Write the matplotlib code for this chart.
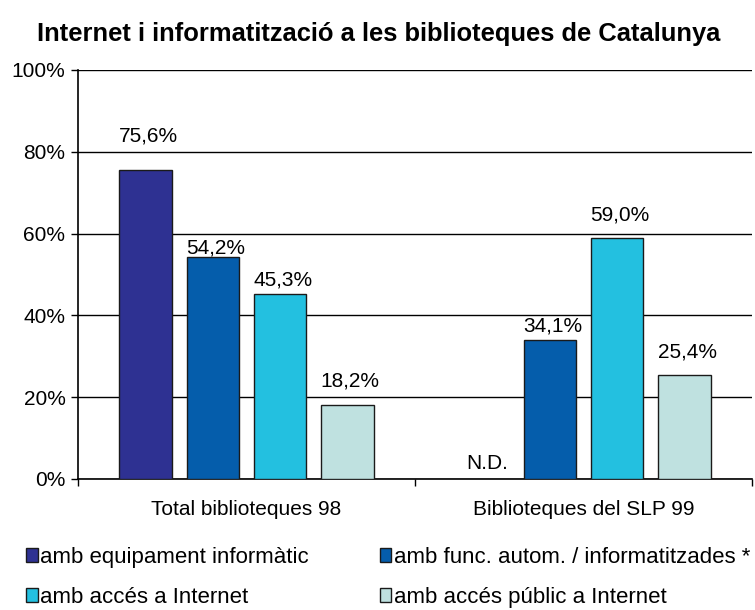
import matplotlib.pyplot as plt
from matplotlib.patches import Patch
from matplotlib.ticker import FixedLocator

plt.rcParams['font.family'] = ['Liberation Sans', 'DejaVu Sans']

# -----------------------------------
# Data
# -----------------------------------
groups = ["Total biblioteques 98", "Biblioteques del SLP 99"]
series = [
    "amb equipament informàtic",
    "amb func. autom. / informatitzades *",
    "amb accés a Internet",
    "amb accés públic a Internet",
]
# None = N.D. (no data)
values = [
    [75.6, None],
    [54.2, 34.1],
    [45.3, 59.0],
    [18.2, 25.4],
]
colors = ["#2E3192", "#055DAB", "#23C0E0", "#BFE1E0"]
y_ticks = [0, 20, 40, 60, 80, 100]

# label gap above each bar (the original labels were placed by hand)
label_gap = [
    [6.9, 2.4],
    [0.9, 1.9],
    [1.9, 4.3],
    [4.3, 4.2],
]

# -----------------------------------
# Plot
# -----------------------------------
fig = plt.figure(figsize=(7.55, 6.1), dpi=100)
ax = fig.add_axes([0.1033, 0.2148, 0.8927, 0.6705])

step = 0.2
width = 0.155
for i, (name, vals) in enumerate(zip(series, values)):
    offset = (i - 1.5) * step
    for g, v in enumerate(vals):
        x = g + offset
        if v is None:
            ax.text(x + 0.015, label_gap[i][g], "N.D.", ha="center",
                    va="baseline", fontsize=15)
            continue
        ax.bar(x, v, width=width, color=colors[i], edgecolor="#1a1a1a",
               linewidth=1, zorder=3)
        label = f"{v:.1f}".replace(".", ",") + "%"
        ax.text(x + 0.008, v + label_gap[i][g], label, ha="center",
                va="baseline", fontsize=15, zorder=4)

ax.set_xlim(-0.5, 1.5)
ax.set_ylim(0, 100)
ax.set_yticks(y_ticks)
ax.set_yticklabels([f"{t}%" for t in y_ticks], fontsize=15)
ax.yaxis.grid(True, color="black", linewidth=1)
ax.set_axisbelow(True)

ax.set_xticks(range(len(groups)))
ax.set_xticklabels(groups, fontsize=15)
ax.tick_params(axis="x", which="major", length=0, pad=15)
ax.xaxis.set_minor_locator(FixedLocator([-0.5, 0.5, 1.5]))
ax.tick_params(axis="x", which="minor", length=5, width=1, direction="out")
ax.tick_params(axis="y", length=5, width=1, direction="out", pad=4)

for side in ["top", "right"]:
    ax.spines[side].set_visible(False)
ax.spines["left"].set_linewidth(1.2)
ax.spines["bottom"].set_linewidth(1.2)

fig.text(0.502, 0.933, "Internet i informatització a les biblioteques de Catalunya",
         fontsize=18.4, fontweight="bold", ha="center", va="baseline")

handles = [Patch(facecolor=c, edgecolor="#1a1a1a", linewidth=1) for c in colors]
order = [0, 2, 1, 3]
fig.legend([handles[k] for k in order], [series[k] for k in order],
           ncol=2, loc="upper left", bbox_to_anchor=(0.035, 0.103),
           frameon=False, fontsize=16, handlelength=0.5, handleheight=0.6,
           handletextpad=0.1, columnspacing=3.23, labelspacing=0.85,
           borderaxespad=0, borderpad=0)

plt.savefig("out.png", dpi=100)
